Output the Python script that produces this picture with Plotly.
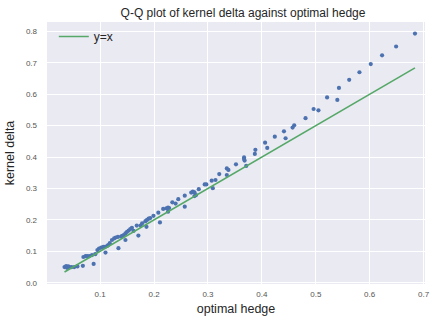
import plotly.graph_objects as go

# Quantile pairs
optimal_hedge = [
    0.034, 0.037, 0.039, 0.041, 0.043, 0.047, 0.052, 0.058, 0.068, 0.088,
    0.069, 0.073, 0.076, 0.080, 0.085, 0.091, 0.095, 0.098, 0.102, 0.106,
    0.109, 0.110, 0.113, 0.115, 0.118, 0.122, 0.126, 0.129, 0.133, 0.134,
    0.139, 0.141, 0.144, 0.147, 0.147, 0.150, 0.153, 0.156, 0.159, 0.162,
    0.168, 0.171, 0.175, 0.178, 0.184, 0.186, 0.187, 0.190, 0.193, 0.199,
    0.208, 0.211, 0.217, 0.223, 0.226, 0.228, 0.226, 0.234, 0.240, 0.245,
    0.257, 0.257, 0.269, 0.272, 0.275, 0.275, 0.278, 0.283, 0.294, 0.297,
    0.307, 0.309, 0.314, 0.321, 0.335, 0.338, 0.335, 0.352, 0.367, 0.367,
    0.368, 0.371, 0.387, 0.388, 0.406, 0.410, 0.424, 0.441, 0.444, 0.457,
    0.460, 0.481, 0.496, 0.505, 0.521, 0.540, 0.543, 0.562, 0.581, 0.602,
    0.623, 0.649, 0.684,
]
kernel_delta = [
    0.050, 0.053, 0.047, 0.052, 0.050, 0.050, 0.050, 0.052, 0.054, 0.060,
    0.082, 0.085, 0.085, 0.085, 0.088, 0.091, 0.104, 0.109, 0.112, 0.114,
    0.114, 0.096, 0.117, 0.120, 0.126, 0.136, 0.141, 0.144, 0.146, 0.110,
    0.147, 0.149, 0.152, 0.136, 0.157, 0.162, 0.166, 0.171, 0.175, 0.165,
    0.182, 0.150, 0.182, 0.189, 0.196, 0.178, 0.200, 0.204, 0.206, 0.213,
    0.223, 0.192, 0.235, 0.237, 0.239, 0.238, 0.226, 0.256, 0.252, 0.266,
    0.277, 0.242, 0.287, 0.290, 0.288, 0.276, 0.279, 0.298, 0.313, 0.313,
    0.325, 0.301, 0.327, 0.346, 0.364, 0.359, 0.343, 0.377, 0.399, 0.394,
    0.389, 0.372, 0.410, 0.423, 0.446, 0.429, 0.465, 0.482, 0.460, 0.494,
    0.501, 0.524, 0.553, 0.549, 0.590, 0.582, 0.620, 0.646, 0.670, 0.696,
    0.724, 0.752, 0.793,
]
x_ticks = [0.0, 0.1, 0.2, 0.3, 0.4, 0.5, 0.6, 0.7]
y_ticks = [0.0, 0.1, 0.2, 0.3, 0.4, 0.5, 0.6, 0.7, 0.8]

lo = min(optimal_hedge)
hi = max(optimal_hedge)
line_x = [lo, hi]
line_y = [lo, hi]

FONT = "Arial, Liberation Sans, sans-serif"

fig = go.Figure()
fig.add_trace(go.Scatter(
    x=optimal_hedge, y=kernel_delta, mode="markers",
    marker=dict(color="#4C72B0", size=4.2, line=dict(width=0)),
    showlegend=False,
))
fig.add_trace(go.Scatter(
    x=line_x, y=line_y, mode="lines", name="y=x",
    line=dict(color="#55A868", width=1.6),
))

fig.update_layout(
    width=430, height=320,
    margin=dict(l=47, r=0, t=22, b=36),
    paper_bgcolor="white",
    plot_bgcolor="#EAEAF2",
    font=dict(family=FONT, color="#262626"),
    title=dict(text="Q-Q plot of kernel delta against optimal hedge",
               x=243 / 430, xref="container", xanchor="center",
               y=1 - 12.5 / 320, yref="container", yanchor="middle",
               font=dict(size=12, color="#262626")),
    legend=dict(x=0.018, y=1.0, xanchor="left", yanchor="top",
                bgcolor="rgba(0,0,0,0)", font=dict(size=12, color="#262626"),
                itemwidth=30),
    xaxis=dict(range=[0.0015, 0.7026], tickvals=x_ticks,
               ticktext=["" if v == 0 else f"{v:.1f}" for v in x_ticks],
               showgrid=True, gridcolor="white", gridwidth=1,
               zeroline=False, showline=False, ticks="",
               tickfont=dict(size=8, color="#555555"),
               ticklabelstandoff=4, ticklabeloverflow="allow",
               title=dict(text="optimal hedge", font=dict(size=12.5, color="#262626"),
                          standoff=6)),
    yaxis=dict(range=[-0.004, 0.83], tickvals=y_ticks,
               ticktext=[f"{v:.1f}" for v in y_ticks],
               showgrid=True, gridcolor="white", gridwidth=1,
               zeroline=False, showline=False, ticks="",
               tickfont=dict(size=8, color="#555555"),
               ticklabelstandoff=9,
               title=dict(text="kernel delta", font=dict(size=12.5, color="#262626"),
                          standoff=8)),
)

fig.write_html("out.html",
               config={"displayModeBar": False},
               post_script="document.body.style.margin='0';document.body.style.overflow='hidden';")
